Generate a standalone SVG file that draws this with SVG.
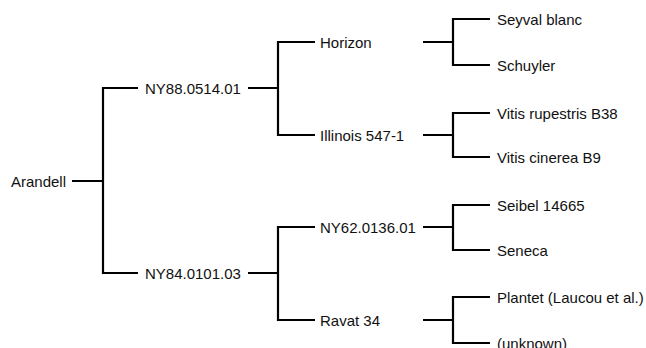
<svg xmlns="http://www.w3.org/2000/svg" width="646" height="348" viewBox="0 0 646 348">
<style>
text{font-family:"Liberation Sans",Arial,sans-serif;font-size:15px;fill:#111}
.c{fill:none;stroke:#000;stroke-width:2.2;stroke-linecap:butt;stroke-linejoin:miter}
</style>
<rect width="646" height="348" fill="#fff"/>
<g id="connectors">
<path class="c" d="M72 181H103M138 88H103V273H138"/>
<path class="c" d="M248 88H278M315 42H278V135H315"/>
<path class="c" d="M248 273H278M315 227H278V320H315"/>
<path class="c" d="M423 42H453M490 19H453V65H490"/>
<path class="c" d="M423 135H453M490 113H453V157H490"/>
<path class="c" d="M423 227H453M490 205H453V250H490"/>
<path class="c" d="M423 320H453M490 297H453V343H490"/>
</g>
<g id="arandell"><text x="11" y="186.5">Arandell</text></g>
<g id="ny88"><text x="145" y="93.5">NY88.0514.01</text></g>
<g id="ny84"><text x="145" y="278.5">NY84.0101.03</text></g>
<g id="horizon"><text x="320" y="47.5">Horizon</text></g>
<g id="illinois"><text x="320" y="140.5">Illinois 547-1</text></g>
<g id="ny62"><text x="320" y="232.5">NY62.0136.01</text></g>
<g id="ravat"><text x="320" y="325.5">Ravat 34</text></g>
<g id="seyval"><text x="497" y="24.5">Seyval blanc</text></g>
<g id="schuyler"><text x="497" y="70.5">Schuyler</text></g>
<g id="rupestris"><text x="497" y="118.5">Vitis rupestris B38</text></g>
<g id="cinerea"><text x="497" y="162.5">Vitis cinerea B9</text></g>
<g id="seibel"><text x="497" y="210.5">Seibel 14665</text></g>
<g id="seneca"><text x="497" y="255.5">Seneca</text></g>
<g id="plantet"><text x="497" y="302.5">Plantet (Laucou et al.)</text></g>
<g id="unknown"><text x="497" y="348.5">(unknown)</text></g>
</svg>
